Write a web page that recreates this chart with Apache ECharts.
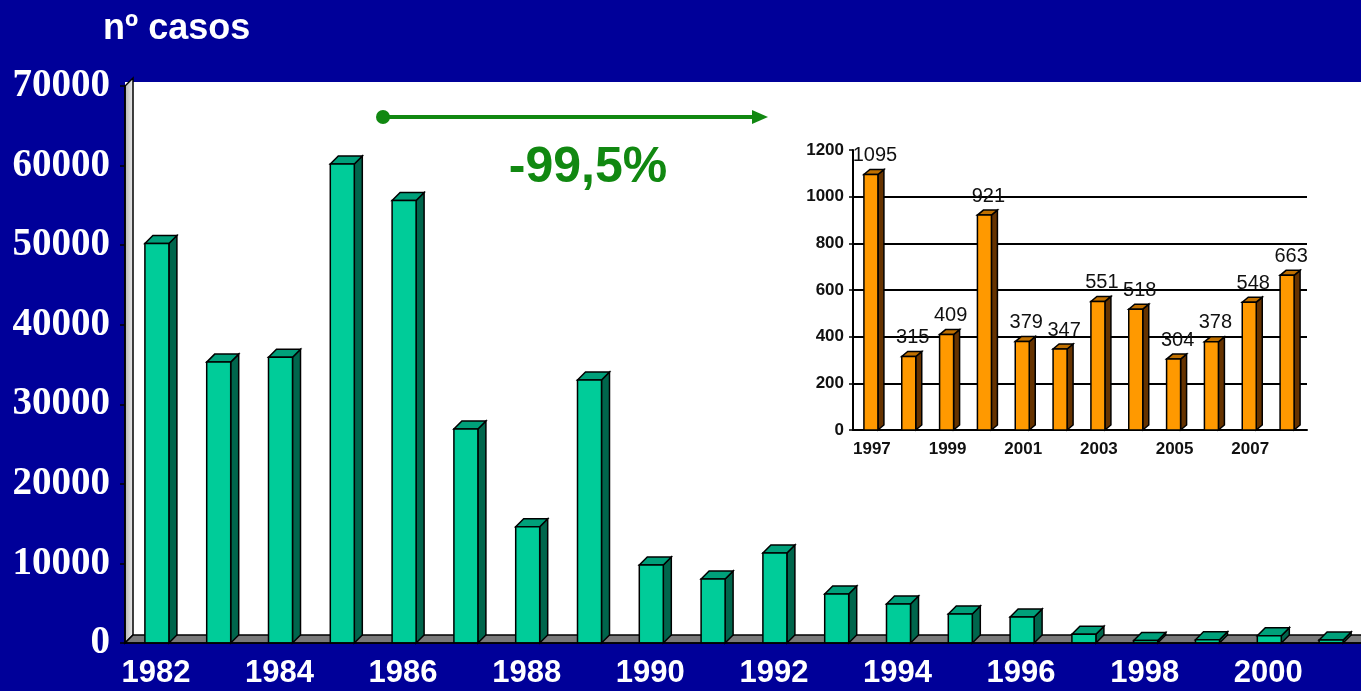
<!DOCTYPE html>
<html><head><meta charset="utf-8">
<script src="https://cdn.jsdelivr.net/npm/echarts@6/dist/echarts.min.js"></script>
<style>html,body{margin:0;padding:0;background:#000099;overflow:hidden}#c{width:1361px;height:691px}</style>
</head><body><div id="c"></div>
<script>
// ---- data ----
const years = ['1982','1983','1984','1985','1986','1987','1988','1989','1990','1991','1992','1993','1994','1995','1996','1997','1998','1999','2000','2001'];
const cases = [50200, 35300, 35900, 60200, 55600, 26900, 14600, 33050, 9800, 8050, 11300, 6150, 4900, 3650, 3270, 1095, 315, 409, 921, 379];
const insetYears = ['1997','1998','1999','2000','2001','2002','2003','2004','2005','2006','2007','2008'];
const insetCases = [1095, 315, 409, 921, 379, 347, 551, 518, 304, 378, 548, 663];
const mainTicks = [0, 10000, 20000, 30000, 40000, 50000, 60000, 70000];
const insetTicks = [0, 200, 400, 600, 800, 1000, 1200];
const yTitle = 'nº casos';
const changeText = '-99,5%';

// ---- rendering ----
function bar3d(o) {
  return function (params, api) {
    const idx = api.value(0), val = api.value(1);
    const base = api.coord([idx, 0]);
    const top = api.coord([idx, val]);
    const c = base[0] + o.shift;
    const x0 = c - o.half, x1 = c + o.half;
    const y0 = base[1], y1 = top[1];
    const dx = o.dx, dy = o.dy;
    const ch = [
      {type: 'polygon', shape: {points: [[x1, y0], [x1 + dx, y0 - dy], [x1 + dx, y1 - dy], [x1, y1]]},
       style: {fill: o.side, stroke: '#000', lineWidth: 1.5}},
      {type: 'polygon', shape: {points: [[x0, y1], [x1, y1], [x1 + dx, y1 - dy], [x0 + dx, y1 - dy]]},
       style: {fill: o.top, stroke: '#000', lineWidth: 1.5}},
      {type: 'rect', shape: {x: x0, y: y1, width: x1 - x0, height: Math.max(y0 - y1, 0)},
       style: {fill: o.front, stroke: '#000', lineWidth: 1.5}}
    ];
    if (o.label) {
      ch.push({type: 'text', z2: 10, style: {text: String(val), x: c + 4, y: y1 - 9,
        align: 'center', verticalAlign: 'bottom', fontSize: 20, fontFamily: 'Liberation Sans, Arial',
        fill: '#111'}});
    }
    return {type: 'group', children: ch};
  };
}

function decor(params, api) {
  const cs = params.coordSys;
  const L = cs.x, T = cs.y, W = cs.width, B = cs.y + cs.height, d = 8;
  return {type: 'group', children: [
    {type: 'rect', shape: {x: L, y: T - 4, width: W + 40, height: B - T + 4}, style: {fill: '#fff'}},
    {type: 'polygon', shape: {points: [[L, B], [L, T], [L + d, T - d], [L + d, B - d]]},
     style: {fill: new echarts.graphic.LinearGradient(0, 0, 1, 0, [{offset: 0, color: '#b0b0b0'}, {offset: 1, color: '#f0f0f0'}]),
       stroke: '#000', lineWidth: 1.5}},
    {type: 'polygon', shape: {points: [[L, B], [L + W + 40, B], [L + W + 40 + d, B - d], [L + d, B - d]]},
     style: {fill: '#7a7a7a', stroke: '#000', lineWidth: 1.5}}
  ]};
}

const plain = v => String(v);
const chart = echarts.init(document.getElementById('c'), null, {renderer: 'canvas'});
const option = {
  backgroundColor: '#000099',
  animation: false,
  grid: [
    {left: 125, top: 86, bottom: 48, width: 1240},
    {left: 853, top: 150, bottom: 261, width: 454}
  ],
  xAxis: [
    {type: 'category', gridIndex: 0, data: years, z: 3,
     axisLine: {lineStyle: {color: '#000', width: 1.5}},
     axisTick: {interval: 0, length: 6, lineStyle: {color: '#000', width: 1.5}},
     axisLabel: {interval: 1, color: '#fff', fontSize: 31, fontWeight: 'bold', fontFamily: 'Liberation Sans, Arial', margin: 15}},
    {type: 'category', gridIndex: 1, data: insetYears, z: 5,
     axisLine: {lineStyle: {color: '#000', width: 2}},
     axisTick: {interval: 0, length: 4, lineStyle: {color: '#000', width: 1.5}},
     axisLabel: {interval: 1, color: '#111', fontSize: 17, fontWeight: 'bold', fontFamily: 'Liberation Sans, Arial', margin: 11}}
  ],
  yAxis: [
    {type: 'value', gridIndex: 0, min: mainTicks[0], max: mainTicks[mainTicks.length - 1], interval: mainTicks[1] - mainTicks[0], z: 3,
     axisLine: {show: true, lineStyle: {color: '#000', width: 1.5}},
     axisTick: {show: true, length: 5, lineStyle: {color: '#000', width: 1.5}},
     splitLine: {show: false},
     axisLabel: {formatter: plain, color: '#fff', fontSize: 39, fontWeight: 'bold', fontFamily: 'Liberation Serif, Times New Roman', margin: 15}},
    {type: 'value', gridIndex: 1, min: insetTicks[0], max: insetTicks[insetTicks.length - 1], interval: insetTicks[1] - insetTicks[0], z: 5,
     axisLine: {show: true, lineStyle: {color: '#000', width: 2}},
     axisTick: {show: true, length: 4, lineStyle: {color: '#000', width: 1.5}},
     splitLine: {show: true, showMaxLine: false, lineStyle: {color: '#000', width: 2}},
     axisLabel: {formatter: plain, color: '#111', fontSize: 17, fontWeight: 'bold', fontFamily: 'Liberation Sans, Arial', margin: 9}}
  ],
  graphic: [
    {type: 'text', left: 103, top: 11, z: 20, style: {text: yTitle, fill: '#fff', fontSize: 36, fontWeight: 'bold', fontFamily: 'Liberation Sans, Arial'}},
    {type: 'line', z: 20, shape: {x1: 383, y1: 117, x2: 758, y2: 117}, style: {stroke: '#118811', lineWidth: 4}},
    {type: 'circle', z: 20, shape: {cx: 383, cy: 117, r: 7}, style: {fill: '#118811'}},
    {type: 'polygon', z: 20, shape: {points: [[752, 110], [768, 117], [752, 124]]}, style: {fill: '#118811'}},
    {type: 'text', z: 20, x: 588, y: 168, style: {text: changeText, fill: '#118811', fontSize: 50, fontWeight: 'bold',
      fontFamily: 'Liberation Sans, Arial', align: 'center', verticalAlign: 'middle'}}
  ],
  series: [
    {type: 'custom', name: 'decor', xAxisIndex: 0, yAxisIndex: 0, z: 1, silent: true,
     data: [[0, 0]], encode: {x: 0, y: 1}, renderItem: decor},
    {type: 'custom', name: 'casos', xAxisIndex: 0, yAxisIndex: 0, z: 2,
     data: cases.map((v, i) => [i, v]), encode: {x: 0, y: 1},
     renderItem: bar3d({half: 12, shift: 1, dx: 8, dy: 8, front: '#00CC99', side: '#00664C', top: '#00A07A'})},
    {type: 'custom', name: 'inset', xAxisIndex: 1, yAxisIndex: 1, z: 6,
     data: insetCases.map((v, i) => [i, v]), encode: {x: 0, y: 1},
     renderItem: bar3d({half: 7, shift: -1, dx: 6, dy: 5, front: '#FF9900', side: '#663300', top: '#C07000', label: true})}
  ]
};
chart.setOption(option);
</script>
</body></html>
